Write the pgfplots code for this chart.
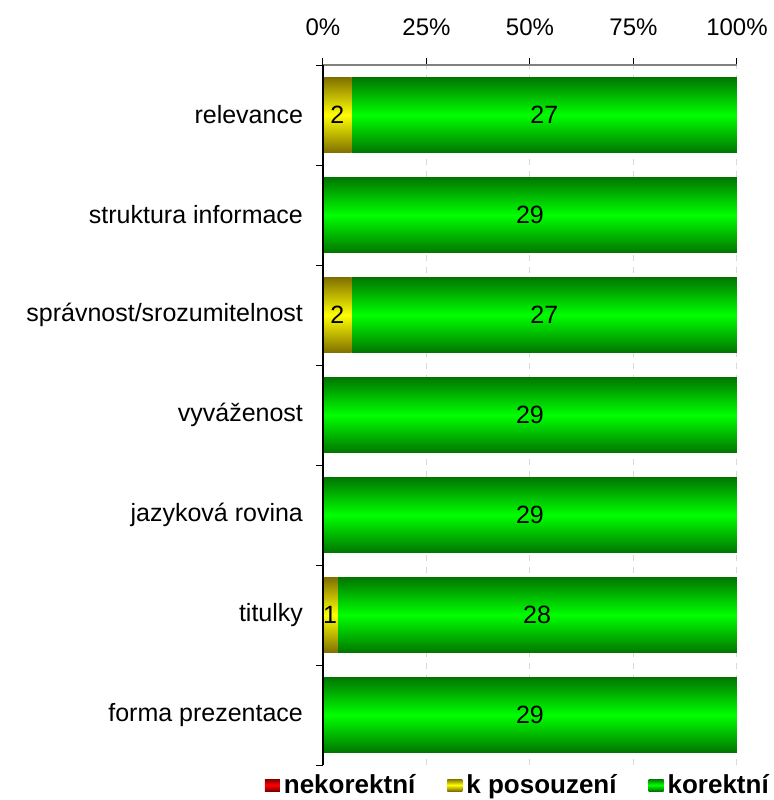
\documentclass[border=0pt]{standalone}
\usepackage{pgfplots}
\pgfplotsset{compat=1.18}
\usepackage{pgfplotstable}
\usepackage{fontspec}
\setmainfont{Liberation Sans}
\definecolor{gdark}{RGB}{0,118,0}
\definecolor{glight}{RGB}{0,255,0}
\definecolor{ydark}{RGB}{128,112,0}
\definecolor{ylight}{RGB}{255,255,0}
\definecolor{rdark}{RGB}{128,0,0}
\definecolor{rlight}{RGB}{255,0,0}

\pgfplotstableread{
x y lab
1 6 2
15.5 6 27
14.5 5 29
1 4 2
15.5 4 27
14.5 3 29
14.5 2 29
0.5 1 1
15 1 28
14.5 0 29
}\labtable

\pgfplotsset{
  frame/.style={width=207pt, height=350pt, scale only axis,
    xmin=0, xmax=29, ymin=-0.5, ymax=6.5},
  rowaxis/.style={frame, hide axis, xbar stacked, bar width=37.5pt},
  rbar/.style={draw=none, top color=rdark, bottom color=rdark, middle color=rlight},
  ybarst/.style={draw=none, top color=ydark, bottom color=ydark, middle color=ylight},
  gbar/.style={draw=none, top color=gdark, bottom color=gdark, middle color=glight},
}

\begin{document}
\begin{tikzpicture}
\path[use as bounding box] (-161.5pt,-17.5pt) rectangle (225.5pt,382.5pt);
% frame with grid, ticks, labels, legend
\begin{axis}[
  frame,
  axis x line*=top, axis y line*=left,
  xtick={0,7.25,14.5,21.75,29},
  xticklabels={0\%,25\%,50\%,75\%,100\%},
  ytick={0,1,2,3,4,5,6},
  yticklabels={forma prezentace, titulky, jazyková rovina, vyváženost, správnost/srozumitelnost, struktura informace, relevance},
  minor xtick={0,7.25,14.5,21.75,29},
  minor ytick={-0.5,0.5,1.5,2.5,3.5,4.5,5.5,6.5},
  major tick length=0pt, minor tick length=3.5pt, tick align=outside,
  major tick style={draw=none},
  minor tick style={black, line width=0.5pt},
  xmajorgrids,
  major grid style={gray!30, dashed, line width=0.5pt},
  x axis line style={draw=gray, line width=0.8pt},
  y axis line style={draw=black, line width=0.8pt},
  xticklabel style={font=\fontsize{12}{14}\selectfont, yshift=11pt},
  yticklabel style={font=\fontsize{12.5}{15}\selectfont, xshift=-6.5pt},
  legend style={at={(0.473,-0.0286)}, anchor=center, draw=none, fill=none,
    font=\bfseries\fontsize{13}{15}\selectfont, legend columns=3,
    /tikz/every even column/.append style={column sep=14pt}},
  legend image code/.code={\path[#1,draw=none] (0pt,-3pt) rectangle (7.5pt,3pt);},
]
\addlegendimage{rbar}\addlegendentry{nekorektní}
\addlegendimage{ybarst}\addlegendentry{k posouzení}
\addlegendimage{gbar}\addlegendentry{korektní}
\end{axis}
% one stacked axis per row, so every bar carries its own shading
\begin{axis}[rowaxis]
\addplot[rbar] coordinates {(0,6)};
\addplot[ybarst] coordinates {(2,6)};
\addplot[gbar] coordinates {(27,6)};
\end{axis}
\begin{axis}[rowaxis]
\addplot[rbar] coordinates {(0,5)};
\addplot[ybarst] coordinates {(0,5)};
\addplot[gbar] coordinates {(29,5)};
\end{axis}
\begin{axis}[rowaxis]
\addplot[rbar] coordinates {(0,4)};
\addplot[ybarst] coordinates {(2,4)};
\addplot[gbar] coordinates {(27,4)};
\end{axis}
\begin{axis}[rowaxis]
\addplot[rbar] coordinates {(0,3)};
\addplot[ybarst] coordinates {(0,3)};
\addplot[gbar] coordinates {(29,3)};
\end{axis}
\begin{axis}[rowaxis]
\addplot[rbar] coordinates {(0,2)};
\addplot[ybarst] coordinates {(0,2)};
\addplot[gbar] coordinates {(29,2)};
\end{axis}
\begin{axis}[rowaxis]
\addplot[rbar] coordinates {(0,1)};
\addplot[ybarst] coordinates {(1,1)};
\addplot[gbar] coordinates {(28,1)};
\end{axis}
\begin{axis}[rowaxis]
\addplot[rbar] coordinates {(0,0)};
\addplot[ybarst] coordinates {(0,0)};
\addplot[gbar] coordinates {(29,0)};
\end{axis}
% value labels and the left axis line on top
\begin{axis}[
  frame,
  axis x line*=top, axis y line*=left,
  xtick=\empty, ytick=\empty,
  x axis line style={draw=gray, line width=0.8pt},
  y axis line style={draw=black, line width=0.8pt},
]
\addplot[draw=none, mark=none, nodes near coords, point meta=explicit symbolic,
  every node near coord/.append style={anchor=center, font=\fontsize{12.5}{15}\selectfont}]
  table[x=x, y=y, meta=lab] {\labtable};
\end{axis}
\end{tikzpicture}
\end{document}
